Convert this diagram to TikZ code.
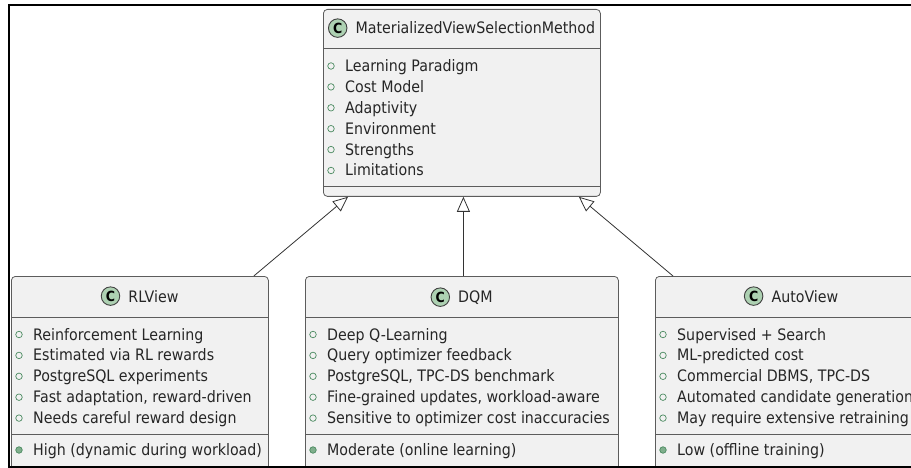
\documentclass[tikz,border=0pt]{standalone}
\usepackage{fontspec}
\setmainfont{DejaVu Sans}[FakeStretch=0.9]
\usetikzlibrary{arrows.meta,calc,positioning}
\definecolor{boxfill}{HTML}{F1F1F1}
\definecolor{boxline}{HTML}{5C5C5C}
\definecolor{classc}{HTML}{ADD1B2}
\definecolor{fieldmark}{HTML}{4A8A60}
\definecolor{methodfill}{HTML}{7FAF8C}

\tikzset{
  classbox/.style={draw=boxline, fill=boxfill, rounded corners=4pt, line width=0.8pt, anchor=north west, inner sep=0pt},
  sepline/.style={draw=boxline, line width=0.8pt},
  cmark/.style={circle, draw=black!75, fill=classc, line width=0.9pt, minimum size=18.5pt, inner sep=0pt, font=\bfseries\fontsize{14}{14}\selectfont},
  ctitle/.style={anchor=base, inner sep=0pt, text=black!85, font=\fontsize{15.8}{18}\selectfont},
  member/.style={anchor=base west, inner sep=0pt, text=black!85, font=\fontsize{15.8}{18}\selectfont},
  fieldpt/.style={circle, draw=fieldmark, line width=0.7pt, minimum size=6.5pt, inner sep=0pt},
  methodpt/.style={circle, draw=fieldmark, fill=methodfill, line width=0.7pt, minimum size=6.5pt, inner sep=0pt},
  inherit/.style={draw=black!80, line width=0.8pt, -{Triangle[open, length=15pt, width=13pt]}},
}

\begin{document}
\begin{tikzpicture}[x=1pt, y=-1pt]
  \useasboundingbox (0,0) rectangle (911,468);
  \clip (0,0) rectangle (911,468);

  % Parent class
  \node[classbox, minimum width=277pt, minimum height=187pt] (mvs) at (323,9) {};
  \draw[sepline] ($(mvs.north west)+(0,39.5)$) -- ($(mvs.north east)+(0,39.5)$);
  \draw[sepline] ($(mvs.south west)+(0,-10)$) -- ($(mvs.south east)+(0,-10)$);
  \node[ctitle] (mvs-name) at ($(mvs.north)+(13.5,25)$) {MaterializedViewSelectionMethod};
  \node[cmark, left=8pt of mvs-name] (mvs-c) {C};
  \foreach \txt [count=\i] in {Learning Paradigm, Cost Model, Adaptivity, Environment, Strengths, Limitations} {
    \node[fieldpt] (mvs-f\i) at ($(mvs.north west)+(8,36.1+20.9*\i)$) {};
    \node[member] at ($(mvs-f\i)+(14,5.5)$) {\txt};
  }

  % RLView
  \node[classbox, minimum width=257pt, minimum height=204pt] (rlview) at (11,276) {};
  \draw[sepline] ($(rlview.north west)+(0,41)$) -- ($(rlview.north east)+(0,41)$);
  \draw[sepline] ($(rlview.north west)+(0,158)$) -- ($(rlview.north east)+(0,158)$);
  \node[ctitle] (rlview-name) at ($(rlview.north)+(13.5,26)$) {RLView};
  \node[cmark, left=8pt of rlview-name] (rlview-c) {C};
  \foreach \txt [count=\i] in {Reinforcement Learning, Estimated via RL rewards, PostgreSQL experiments, {Fast adaptation, reward-driven}, Needs careful reward design} {
    \node[fieldpt] (rlview-f\i) at ($(rlview.north west)+(8,37.6+20.9*\i)$) {};
    \node[member] at ($(rlview-f\i)+(14,5.5)$) {\txt};
  }
  \node[methodpt] (rlview-m) at ($(rlview.north west)+(8,174)$) {};
  \node[member] at ($(rlview-m)+(14,5.5)$) {High (dynamic during workload)};

  % DQM
  \node[classbox, minimum width=313pt, minimum height=204pt] (dqm) at (305,276) {};
  \draw[sepline] ($(dqm.north west)+(0,41)$) -- ($(dqm.north east)+(0,41)$);
  \draw[sepline] ($(dqm.north west)+(0,158)$) -- ($(dqm.north east)+(0,158)$);
  \node[ctitle] (dqm-name) at ($(dqm.north)+(13.5,26)$) {DQM};
  \node[cmark, left=8pt of dqm-name] (dqm-c) {C};
  \foreach \txt [count=\i] in {Deep Q-Learning, Query optimizer feedback, {PostgreSQL, TPC-DS benchmark}, {Fine-grained updates, workload-aware}, Sensitive to optimizer cost inaccuracies} {
    \node[fieldpt] (dqm-f\i) at ($(dqm.north west)+(8,37.6+20.9*\i)$) {};
    \node[member] at ($(dqm-f\i)+(14,5.5)$) {\txt};
  }
  \node[methodpt] (dqm-m) at ($(dqm.north west)+(8,174)$) {};
  \node[member] at ($(dqm-m)+(14,5.5)$) {Moderate (online learning)};

  % AutoView
  \node[classbox, minimum width=272pt, minimum height=204pt] (autoview) at (655,276) {};
  \draw[sepline] ($(autoview.north west)+(0,41)$) -- ($(autoview.north east)+(0,41)$);
  \draw[sepline] ($(autoview.north west)+(0,158)$) -- ($(autoview.north east)+(0,158)$);
  \node[ctitle] (autoview-name) at ($(autoview.north)+(13.5,26)$) {AutoView};
  \node[cmark, left=8pt of autoview-name] (autoview-c) {C};
  \foreach \txt [count=\i] in {Supervised + Search, ML-predicted cost, {Commercial DBMS, TPC-DS}, Automated candidate generation, May require extensive retraining} {
    \node[fieldpt] (autoview-f\i) at ($(autoview.north west)+(8,37.6+20.9*\i)$) {};
    \node[member] at ($(autoview-f\i)+(14,5.5)$) {\txt};
  }
  \node[methodpt] (autoview-m) at ($(autoview.north west)+(8,174)$) {};
  \node[member] at ($(autoview-m)+(14,5.5)$) {Low (offline training)};

  % Inheritance
  \draw[inherit] ($(rlview.north east)+(-15,0)$) -- ($(mvs.south west)+(25,0)$);
  \draw[inherit] ($(dqm.north)+(1.5,0)$) -- ($(mvs.south)+(1.5,0)$);
  \draw[inherit] ($(autoview.north west)+(18,0)$) -- ($(mvs.south east)+(-22,0)$);

  % Frame
  \draw[line width=2pt] (9,468) -- (9,5.5) -- (911,5.5);
  \draw[line width=2pt] (8,467) -- (911,467);
\end{tikzpicture}
\end{document}
